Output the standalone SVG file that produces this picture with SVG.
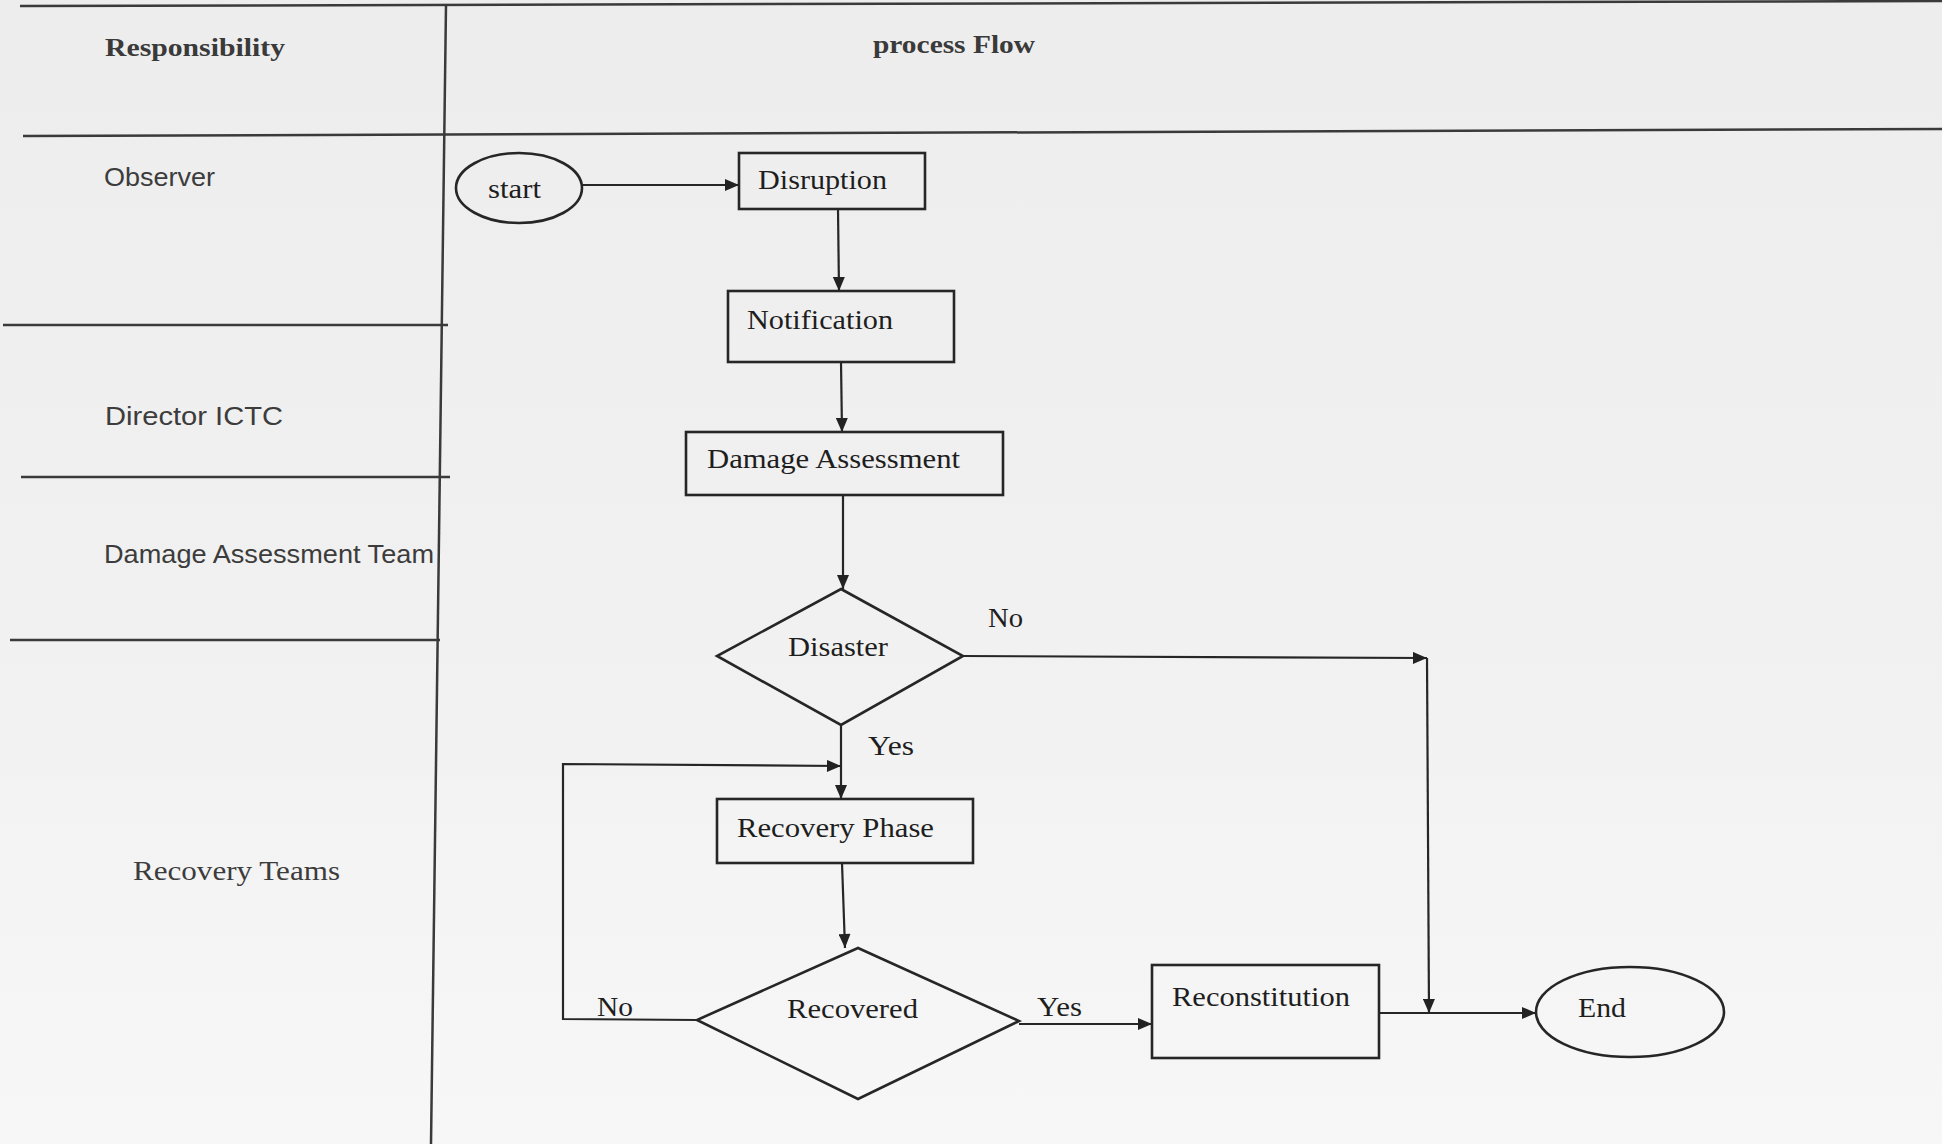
<svg xmlns="http://www.w3.org/2000/svg" width="1942" height="1144" viewBox="0 0 1942 1144">
  <defs>
    <linearGradient id="paper" x1="0" y1="0" x2="0" y2="1">
      <stop offset="0" stop-color="#ededed"/>
      <stop offset="0.55" stop-color="#f1f1f1"/>
      <stop offset="1" stop-color="#f7f7f7"/>
    </linearGradient>
    <marker id="arrow" viewBox="0 0 14 12" refX="14" refY="6" markerWidth="15" markerHeight="12" markerUnits="userSpaceOnUse" orient="auto">
      <path d="M0,0 L14,6 L0,12 Z" fill="#222"/>
    </marker>
    <style>
      .rule { stroke: #3a3a3a; stroke-width: 2.5; fill: none; }
      .shape { stroke: #262626; stroke-width: 2.6; fill: none; }
      .conn { stroke: #262626; stroke-width: 2.2; fill: none; }
      .arr { marker-end: url(#arrow); }
      .head { font-family: "Liberation Serif", serif; font-weight: bold; font-size: 25px; fill: #3a3a3a; }
      .role { font-family: "Liberation Sans", sans-serif; font-size: 26px; fill: #3c3c3c; }
      .roleSerif { font-family: "Liberation Serif", serif; font-size: 27px; fill: #3c3c3c; }
      .lbl { font-family: "Liberation Serif", serif; font-size: 28px; fill: #1e1e1e; }
    </style>
  </defs>

  <!-- page -->
  <rect x="0" y="0" width="1942" height="1144" fill="url(#paper)"/>

  <!-- swimlane table rules -->
  <g id="table">
    <line class="rule" x1="20" y1="6" x2="1942" y2="1"/>
    <line class="rule" x1="23" y1="136" x2="1942" y2="129"/>
    <line class="rule" x1="446" y1="5" x2="431" y2="1144"/>
    <line class="rule" x1="3" y1="325" x2="448" y2="325"/>
    <line class="rule" x1="21" y1="477" x2="450" y2="477"/>
    <line class="rule" x1="10" y1="640" x2="440" y2="640"/>
  </g>

  <!-- column headings and lane names -->
  <g id="headings">
    <text class="head" x="105" y="56" textLength="180" lengthAdjust="spacingAndGlyphs">Responsibility</text>
    <text class="head" x="873" y="53" textLength="162" lengthAdjust="spacingAndGlyphs">process Flow</text>
  </g>
  <g id="lanes">
    <text class="role" x="104" y="186" textLength="111" lengthAdjust="spacingAndGlyphs">Observer</text>
    <text class="role" x="105" y="425" textLength="178" lengthAdjust="spacingAndGlyphs">Director ICTC</text>
    <text class="role" x="104" y="563" textLength="330" lengthAdjust="spacingAndGlyphs">Damage Assessment Team</text>
    <text class="roleSerif" x="133" y="880" textLength="207" lengthAdjust="spacingAndGlyphs">Recovery Teams</text>
  </g>

  <!-- connectors -->
  <g id="connectors">
    <line class="conn arr" x1="582" y1="185" x2="739" y2="185"/>
    <line class="conn arr" x1="838" y1="209" x2="839" y2="291"/>
    <line class="conn arr" x1="841" y1="362" x2="842" y2="432"/>
    <line class="conn arr" x1="843" y1="495" x2="843" y2="589"/>
    <line class="conn arr" x1="963" y1="656" x2="1427" y2="658"/>
    <line class="conn arr" x1="1427" y1="658" x2="1429" y2="1013"/>
    <line class="conn arr" x1="841" y1="725" x2="841" y2="799"/>
    <polyline class="conn arr" points="697,1020 563,1019 563,764 841,766"/>
    <line class="conn arr" x1="842" y1="863" x2="845" y2="948"/>
    <line class="conn arr" x1="1019" y1="1024" x2="1152" y2="1024"/>
    <line class="conn arr" x1="1379" y1="1013" x2="1536" y2="1013"/>
    <text class="lbl" x="988" y="627" textLength="35" lengthAdjust="spacingAndGlyphs">No</text>
    <text class="lbl" x="868" y="755" textLength="46" lengthAdjust="spacingAndGlyphs">Yes</text>
    <text class="lbl" x="597" y="1016" textLength="36" lengthAdjust="spacingAndGlyphs">No</text>
    <text class="lbl" x="1037" y="1016" textLength="45" lengthAdjust="spacingAndGlyphs">Yes</text>
  </g>

  <!-- nodes -->
  <g id="start">
    <ellipse class="shape" cx="519" cy="188" rx="63" ry="35"/>
    <text class="lbl" x="488" y="198" textLength="53" lengthAdjust="spacingAndGlyphs">start</text>
  </g>
  <g id="disruption">
    <rect class="shape" x="739" y="153" width="186" height="56"/>
    <text class="lbl" x="758" y="189" textLength="129" lengthAdjust="spacingAndGlyphs">Disruption</text>
  </g>
  <g id="notification">
    <rect class="shape" x="728" y="291" width="226" height="71"/>
    <text class="lbl" x="747" y="329" textLength="146" lengthAdjust="spacingAndGlyphs">Notification</text>
  </g>
  <g id="damage-assessment">
    <rect class="shape" x="686" y="432" width="317" height="63"/>
    <text class="lbl" x="707" y="468" textLength="253" lengthAdjust="spacingAndGlyphs">Damage Assessment</text>
  </g>
  <g id="disaster">
    <polygon class="shape" points="841,589 963,656 841,725 717,656"/>
    <text class="lbl" x="788" y="656" textLength="100" lengthAdjust="spacingAndGlyphs">Disaster</text>
  </g>
  <g id="recovery-phase">
    <rect class="shape" x="717" y="799" width="256" height="64"/>
    <text class="lbl" x="737" y="837" textLength="197" lengthAdjust="spacingAndGlyphs">Recovery Phase</text>
  </g>
  <g id="recovered">
    <polygon class="shape" points="858,948 1019,1021 858,1099 697,1020"/>
    <text class="lbl" x="787" y="1018" textLength="131" lengthAdjust="spacingAndGlyphs">Recovered</text>
  </g>
  <g id="reconstitution">
    <rect class="shape" x="1152" y="965" width="227" height="93"/>
    <text class="lbl" x="1172" y="1006" textLength="178" lengthAdjust="spacingAndGlyphs">Reconstitution</text>
  </g>
  <g id="end">
    <ellipse class="shape" cx="1630" cy="1012" rx="94" ry="45"/>
    <text class="lbl" x="1578" y="1017" textLength="48" lengthAdjust="spacingAndGlyphs">End</text>
  </g>
</svg>
